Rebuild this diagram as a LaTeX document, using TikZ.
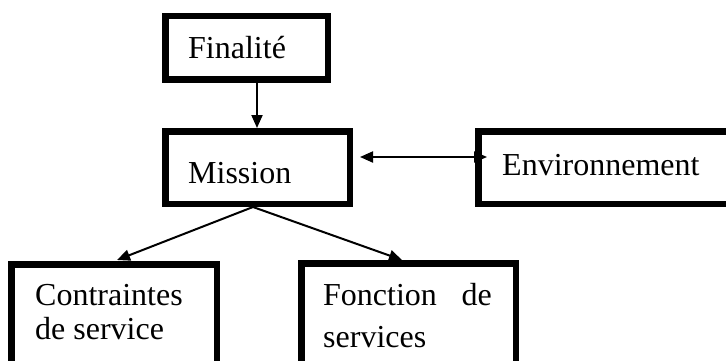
\documentclass[tikz,border=0pt]{standalone}
\usepackage{fontspec}
\setmainfont{Liberation Serif}
\usetikzlibrary{arrows.meta}
\begin{document}
\begin{tikzpicture}[x=1pt,y=-1pt,
  box/.style={draw=black,line width=6.5pt,rectangle,inner sep=0pt,fill=white},
  lbl/.style={anchor=base west,inner sep=0pt,font=\fontsize{32}{36}\selectfont},
  conn/.style={draw=black,line width=2pt,-{Triangle[length=13pt,width=11pt]}},
  dconn/.style={draw=black,line width=2pt,{Triangle[length=13pt,width=11pt]}-{Triangle[length=13pt,width=11pt]}}]
\useasboundingbox (0,0) rectangle (726,361);
\clip (0,0) rectangle (726,361);
% boxes
\node[box,minimum width=162.5pt,minimum height=63.5pt] (fin) at (246.5,48) {};
\node[box,minimum width=184.5pt,minimum height=72.5pt] (mis) at (257.5,167.5) {};
\node[box,minimum width=263.5pt,minimum height=72.5pt] (env) at (610,167.5) {};
\node[box,minimum width=205.5pt,minimum height=112.5pt] (con) at (114,320.5) {};
\node[box,minimum width=214.5pt,minimum height=113.5pt] (fon) at (408.5,320) {};
% texts
\node[lbl] (tfin) at (188,58.3) {Finalité};
\node[lbl] (tmis) at (188,183.3) {Mission};
\node[lbl] (tenv) at (502,175) {Environnement};
\node[lbl] (tcon1) at (35,305) {Contraintes};
\node[lbl] (tcon2) at (35,339) {de service};
\node[lbl] (tfon1) at (323,305) {\hbox to 168.7pt{Fonction\hfill de}};
\node[lbl] (tfon2) at (323,347) {services};
% connector end points
\coordinate (ax) at (257,0);
\coordinate (dl) at (360,157);
\coordinate (dr) at (487,157);
\coordinate (mb) at (253,207);
\coordinate (ct) at (117,260);
\coordinate (ft) at (402,260);
% connectors
\draw[conn] (fin.south -| ax) -- (mis.north -| ax);
\draw[dconn] (dl) -- (dr);
\draw[conn] (mb) -- (ct);
\draw[conn] (mb) -- (ft);
\end{tikzpicture}
\end{document}
